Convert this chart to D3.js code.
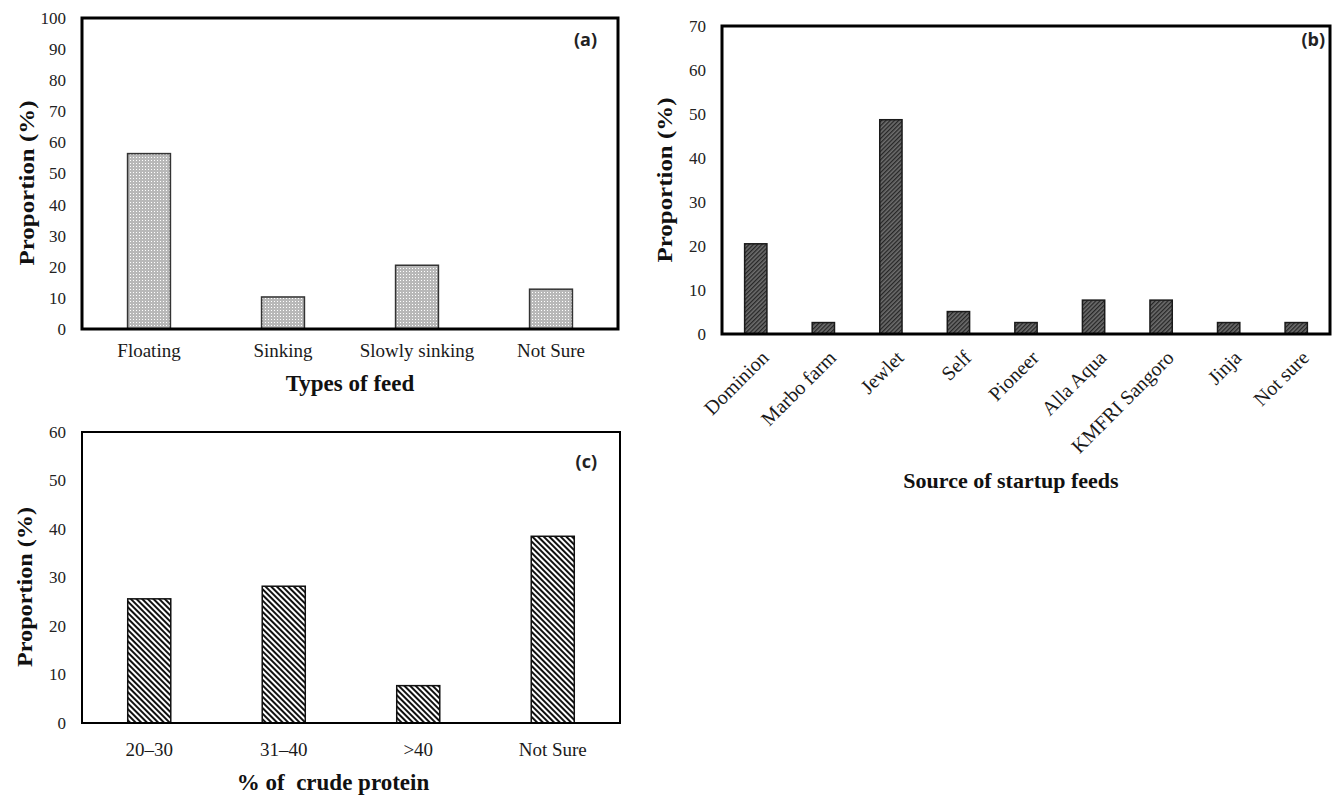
<!DOCTYPE html>
<html>
<head>
<meta charset="utf-8">
<script src="https://cdn.jsdelivr.net/npm/d3@7"></script>
<style>
  body { margin: 0; background: #fff; }
  svg { display: block; }
  .tick-label { font-family: "Liberation Serif", serif; }
  .axis-title { font-family: "Liberation Serif", serif; font-weight: bold; fill: #111; white-space: pre; }
  .panel-tag { font-family: "Open Sans", "Liberation Sans", sans-serif; font-weight: bold; fill: #222; }
</style>
</head>
<body>
<svg id="chart" width="1333" height="796"></svg>
<script>
// (a) types of feed
const feedTypes = ['Floating', 'Sinking', 'Slowly sinking', 'Not Sure'];
const feedTypeShare = [56.4, 10.3, 20.5, 12.8];
const feedTypeTicks = [0, 10, 20, 30, 40, 50, 60, 70, 80, 90, 100];

// (b) source of startup feeds
const feedSources = ['Dominion', 'Marbo farm', 'Jewlet', 'Self', 'Pioneer', 'Alla Aqua', 'KMFRI Sangoro', 'Jinja', 'Not sure'];
const feedSourceShare = [20.5, 2.6, 48.7, 5.1, 2.6, 7.7, 7.7, 2.6, 2.6];
const feedSourceTicks = [0, 10, 20, 30, 40, 50, 60, 70];

// (c) crude protein
const proteinLevels = ['20\u201330', '31\u201340', '>40', 'Not Sure'];
const proteinShare = [25.6, 28.2, 7.7, 38.5];
const proteinTicks = [0, 10, 20, 30, 40, 50, 60];

const svg = d3.select('#chart');
const defs = svg.append('defs');

// dotted grey fill
let dots = defs.append('pattern').attr('id', 'dots')
  .attr('patternUnits', 'userSpaceOnUse').attr('width', 3).attr('height', 3);
dots.append('rect').attr('width', 3).attr('height', 3).attr('fill', '#b8b8b8');
dots.append('rect').attr('x', 1).attr('y', 1).attr('width', 1).attr('height', 1).attr('fill', '#fff');

// dense dark hatch
let hatch = defs.append('pattern').attr('id', 'hatch')
  .attr('patternUnits', 'userSpaceOnUse').attr('width', 3).attr('height', 3)
  .attr('patternTransform', 'rotate(45)');
hatch.append('rect').attr('width', 3).attr('height', 3).attr('fill', '#6e6e6e');
hatch.append('rect').attr('width', 1.3).attr('height', 3).attr('fill', '#262626');

// wide black/white stripes
let stripes = defs.append('pattern').attr('id', 'stripes')
  .attr('patternUnits', 'userSpaceOnUse').attr('width', 4).attr('height', 4)
  .attr('patternTransform', 'rotate(-45)');
stripes.append('rect').attr('width', 4).attr('height', 4).attr('fill', '#fff');
stripes.append('rect').attr('width', 2).attr('height', 4).attr('fill', '#111');

function drawPanel(opt) {
  const g = svg.append('g');
  const x = d3.scaleBand().domain(opt.cats)
    .range([opt.left, opt.right]).paddingInner(opt.pad).paddingOuter(opt.pad / 2);
  const y = d3.scaleLinear().domain([0, opt.max]).range([opt.bottom, opt.top]);

  // bars
  g.selectAll('rect.bar').data(opt.vals).join('rect')
    .attr('class', 'bar')
    .attr('x', (d, i) => x(opt.cats[i]))
    .attr('y', d => y(d))
    .attr('width', x.bandwidth())
    .attr('height', d => y(0) - y(d))
    .attr('fill', `url(#${opt.fill})`)
    .attr('stroke', opt.barStroke)
    .attr('stroke-width', 1.5);

  // frame
  g.append('rect')
    .attr('x', opt.left).attr('y', opt.top)
    .attr('width', opt.right - opt.left).attr('height', opt.bottom - opt.top)
    .attr('fill', 'none').attr('stroke', '#000').attr('stroke-width', opt.frameW);

  // y axis, labels only
  const yAxis = d3.axisLeft(y).tickValues(opt.ticks).tickSize(0).tickPadding(16);
  const ya = g.append('g').attr('transform', `translate(${opt.left},0)`).call(yAxis);
  ya.select('.domain').remove();
  ya.selectAll('text').attr('class', 'tick-label').attr('font-size', 17).attr('fill', '#222');

  // x axis
  const xAxis = d3.axisBottom(x).tickSize(0).tickPadding(opt.xPad);
  const xa = g.append('g').attr('transform', `translate(0,${opt.bottom})`).call(xAxis);
  xa.select('.domain').remove();
  xa.selectAll('text').attr('class', 'tick-label')
    .attr('font-size', opt.rotate ? 20 : 19).attr('fill', '#1a1a1a');
  if (opt.rotate) {
    // slanted labels ending just under each bar
    xa.selectAll('text')
      .attr('text-anchor', 'end')
      .attr('x', 0).attr('y', 0)
      .attr('dy', '0.35em')
      .attr('transform', 'translate(9,20) rotate(-45)');
  }

  // titles
  g.append('text').attr('class', 'axis-title')
    .attr('x', opt.xTitleX).attr('y', opt.xTitleY)
    .attr('text-anchor', 'middle').attr('font-size', opt.xTitleSize)
    .text(opt.xTitle);
  g.append('text').attr('class', 'axis-title')
    .attr('transform', `translate(${opt.yTitleX},${opt.yTitleY}) rotate(-90)`)
    .attr('text-anchor', 'middle').attr('font-size', 22)
    .attr('textLength', opt.yTitleLen).attr('lengthAdjust', 'spacingAndGlyphs')
    .text('Proportion (%)');

  g.append('text').attr('class', 'panel-tag')
    .attr('x', opt.tagX).attr('y', opt.tagY)
    .attr('text-anchor', 'end').attr('font-size', 18)
    .text(opt.tag);
}

drawPanel({
  cats: feedTypes, vals: feedTypeShare, ticks: feedTypeTicks, max: 100,
  left: 82, right: 618, top: 18, bottom: 329, pad: 0.68, xPad: 15,
  fill: 'dots', barStroke: '#333', frameW: 3,
  xTitle: 'Types of feed', xTitleX: 350, xTitleY: 391, xTitleSize: 23,
  yTitleX: 34, yTitleY: 183, yTitleLen: 165, tag: '(a)', tagX: 597, tagY: 46
});

drawPanel({
  cats: feedSources, vals: feedSourceShare, ticks: feedSourceTicks, max: 70,
  left: 722, right: 1330, top: 26, bottom: 334, pad: 0.67, xPad: 12, rotate: true,
  fill: 'hatch', barStroke: '#1a1a1a', frameW: 3,
  xTitle: 'Source of startup feeds', xTitleX: 1011, xTitleY: 488, xTitleSize: 22,
  yTitleX: 672, yTitleY: 180, yTitleLen: 165, tag: '(b)', tagX: 1325, tagY: 46
});

drawPanel({
  cats: proteinLevels, vals: proteinShare, ticks: proteinTicks, max: 60,
  left: 82, right: 620, top: 432, bottom: 723, pad: 0.68, xPad: 20,
  fill: 'stripes', barStroke: '#111', frameW: 2,
  xTitle: '% of  crude protein', xTitleX: 333, xTitleY: 790, xTitleSize: 23,
  yTitleX: 32, yTitleY: 587, yTitleLen: 160, tag: '(c)', tagX: 597, tagY: 468
});
</script>
</body>
</html>
